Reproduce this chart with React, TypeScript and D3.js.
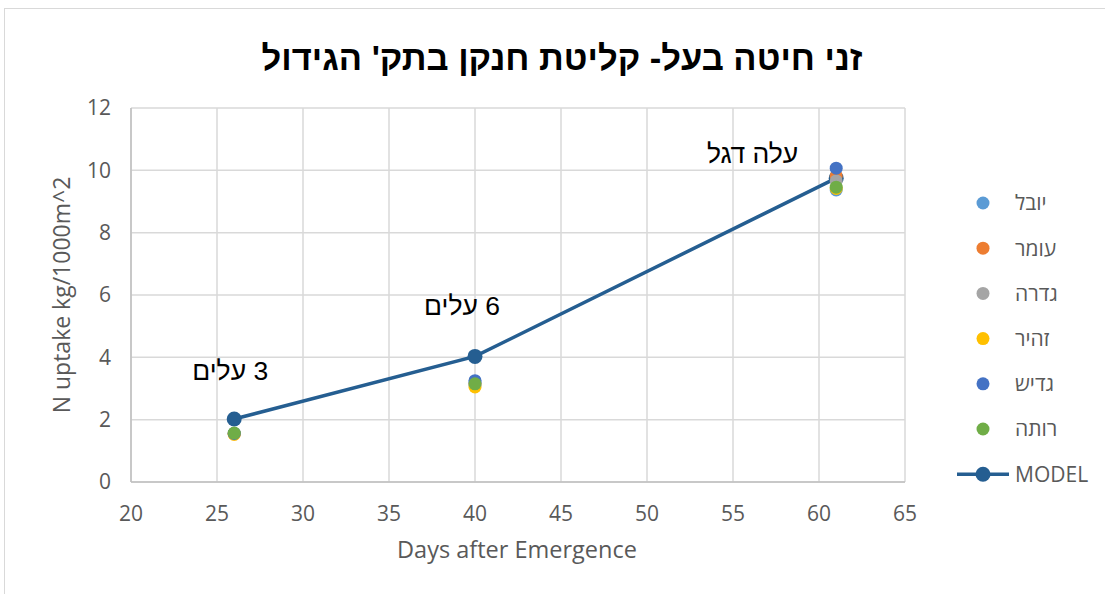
import React from "react";
import * as d3 from "d3";

const days = [26, 40, 61];
const seriesNames = ["יובל", "עומר", "גדרה", "זהיר", "גדיש", "רותה"];
const seriesColors = ["#5B9BD5", "#ED7D31", "#A5A5A5", "#FFC000", "#4472C4", "#70AD47"];
const yuval = [1.55, 3.2, 9.37];
const omer = [1.54, 3.15, 9.82];
const gedera = [1.55, 3.1, 9.66];
const zahir = [1.53, 3.05, 9.42];
const gadish = [1.56, 3.25, 10.07];
const rutah = [1.57, 3.15, 9.46];
const seriesValues = [yuval, omer, gedera, zahir, gadish, rutah];
const model = [2.02, 4.03, 9.75];
const modelName = "MODEL";
const modelColor = "#255E91";
const stageLabels = ["3 עלים", "6 עלים", "עלה דגל"];
const xTicks = [20, 25, 30, 35, 40, 45, 50, 55, 60, 65];
const yTicks = [0, 2, 4, 6, 8, 10, 12];
const title = "זני חיטה בעל- קליטת חנקן בתק' הגידול";
const xTitle = "Days after Emergence";
const yTitle = "N uptake kg/1000m^2";

export default function App() {
  const W = 1105, H = 594;
  const x = d3.scaleLinear().domain([20, 65]).range([131, 905]);
  const y = d3.scaleLinear().domain([0, 12]).range([482, 108]);
  const line = d3.line<number>().x((_, i) => x(days[i])).y((d) => y(d));
  const txt = "#595959";
  const axisFont = "'Open Sans', 'Noto Sans', sans-serif";
  const labelOffsets = [
    { dx: 34, dy: -39 },
    { dx: 25, dy: -41 },
    { dx: -38, dy: -15 },
  ];
  return (
    <svg width={W} height={H} style={{ position: "absolute", left: 0, top: 0, background: "#fff" }}>
      <rect x={4.5} y={8.5} width={1200} height={700} fill="#fff" stroke="#D9D9D9" />
      <text x={562} y={70} textAnchor="middle" direction="rtl" fontFamily="'Liberation Sans', Arial, sans-serif" fontWeight="bold" fontSize={34.5} fill="#000">
        {title}
      </text>
      {xTicks.map((t) => (
        <line key={"gx" + t} x1={x(t)} x2={x(t)} y1={y(12)} y2={y(0)} stroke="#D9D9D9" strokeWidth={1.5} />
      ))}
      {yTicks.map((t) => (
        <line key={"gy" + t} x1={x(20)} x2={x(65)} y1={y(t)} y2={y(t)} stroke="#D9D9D9" strokeWidth={1.5} />
      ))}
      <line x1={x(20)} x2={x(20)} y1={y(12)} y2={y(0)} stroke="#BFBFBF" strokeWidth={1.5} />
      <line x1={x(20)} x2={x(65)} y1={y(0)} y2={y(0)} stroke="#BFBFBF" strokeWidth={1.5} />
      {xTicks.map((t) => (
        <text key={"tx" + t} x={x(t)} y={521} textAnchor="middle" fontFamily={axisFont} fontSize={21} fill={txt}>
          {t}
        </text>
      ))}
      {yTicks.map((t) => (
        <text key={"ty" + t} x={111} y={y(t)} dy="0.35em" textAnchor="end" fontFamily={axisFont} fontSize={21} fill={txt}>
          {t}
        </text>
      ))}
      <text x={517} y={558} textAnchor="middle" fontFamily={axisFont} fontSize={23.5} fill={txt}>
        {xTitle}
      </text>
      <text transform="translate(70,295) rotate(-90)" textAnchor="middle" fontFamily={axisFont} fontSize={23} fill={txt}>
        {yTitle}
      </text>
      <path d={line(model) || ""} fill="none" stroke={modelColor} strokeWidth={3.5} />
      {model.map((v, i) => (
        <circle key={"m" + i} cx={x(days[i])} cy={y(v)} r={7.5} fill={modelColor} />
      ))}
      {seriesValues.map((vals, si) =>
        vals.map((v, i) => (
          <circle key={si + "-" + i} cx={x(days[i])} cy={y(v)} r={6.5} fill={seriesColors[si]} />
        ))
      )}
      {stageLabels.map((s, i) => (
        <text key={"s" + i} x={x(days[i]) + labelOffsets[i].dx} y={y(model[i]) + labelOffsets[i].dy} textAnchor="start" direction="rtl" fontFamily="'Liberation Sans', Arial, sans-serif" fontSize={26.5} fill="#000">
          {s}
        </text>
      ))}
      {seriesNames.map((n, i) => (
        <g key={"l" + i} transform={`translate(0,${203 + i * 45.2})`}>
          <circle cx={983} cy={0} r={6.5} fill={seriesColors[i]} />
          <text x={1015} y={0} dy="0.35em" fontFamily={axisFont} fontSize={21} fill={txt}>
            {n}
          </text>
        </g>
      ))}
      <g transform={`translate(0,${203 + 6 * 45.2})`}>
        <line x1={957} x2={1009} y1={0} y2={0} stroke={modelColor} strokeWidth={3.5} />
        <circle cx={983} cy={0} r={7.5} fill={modelColor} />
        <text x={1015} y={0} dy="0.35em" fontFamily={axisFont} fontSize={21} fill={txt}>
          {modelName}
        </text>
      </g>
    </svg>
  );
}
